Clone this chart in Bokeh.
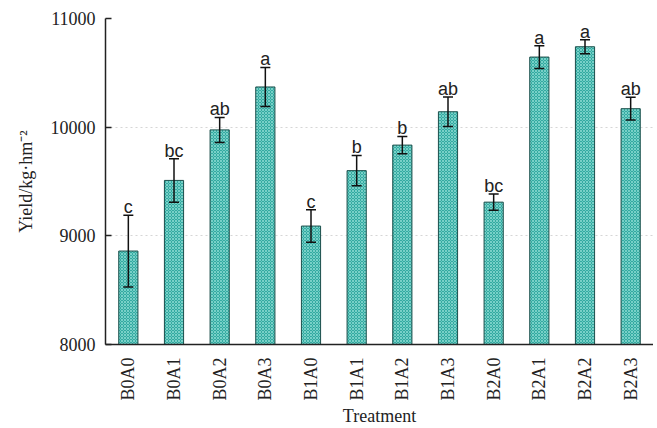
import math
from bokeh.plotting import figure
from bokeh.models import ColumnDataSource, FactorRange, Range1d, Whisker, FixedTicker
from bokeh.core.properties import value
from bokeh.embed import file_html
from bokeh.resources import INLINE

treatments = ["B0A0", "B0A1", "B0A2", "B0A3", "B1A0", "B1A1", "B1A2", "B1A3",
              "B2A0", "B2A1", "B2A2", "B2A3"]
yields = [8860, 9510, 9975, 10370, 9090, 9600, 9835, 10142, 9310, 10645, 10740, 10170]
errors = [330, 200, 115, 180, 150, 140, 80, 135, 75, 105, 65, 105]
letters = ["c", "bc", "ab", "a", "c", "b", "b", "ab", "bc", "a", "a", "ab"]
y_ticks = [8000, 9000, 10000, 11000]

upper = [v + e for v, e in zip(yields, errors)]
lower = [v - e for v, e in zip(yields, errors)]
src = ColumnDataSource(dict(x=treatments, y=yields, upper=upper, lower=lower, lab=letters))

p = figure(x_range=FactorRange(*treatments), y_range=Range1d(8000, 11000),
           width=653, height=428, output_backend="svg", toolbar_location=None,
           min_border_left=105, min_border_right=0, min_border_top=18, min_border_bottom=76)
p.outline_line_color = None
p.background_fill_color = "white"

p.vbar(x="x", top="y", bottom=8000, width=0.42, source=src,
       fill_color="#33aaa1", line_color="#1d4f4b", line_width=1,
       hatch_pattern="diagonal_cross", hatch_color="#8ad9d2", hatch_scale=3, hatch_weight=0.8)

w = Whisker(base="x", upper="upper", lower="lower", source=src,
            line_color="#111111", line_width=1.5, level="overlay")
w.upper_head.size = 10
w.lower_head.size = 10
w.upper_head.line_width = 1.5
w.lower_head.line_width = 1.5
w.upper_head.line_color = "#111111"
w.lower_head.line_color = "#111111"
p.add_layout(w)

p.text(x="x", y="upper", text="lab", source=src, text_align="center",
       text_baseline="alphabetic", y_offset=-8, text_font=value("Liberation Sans"),
       text_font_size="18px", text_color="#222222")

p.xgrid.grid_line_color = None
p.ygrid.grid_line_color = "#cccccc"
p.ygrid.grid_line_dash = "2 3"
p.ygrid.grid_line_alpha = 0.8

p.yaxis.ticker = FixedTicker(ticks=y_ticks)
p.yaxis.minor_tick_line_color = None
p.yaxis.major_tick_in = 6
p.yaxis.major_tick_out = 0
p.yaxis.major_label_standoff = 10
p.yaxis.axis_line_width = 1.5
p.yaxis.major_tick_line_width = 1.5
p.yaxis.axis_label = "Yield/kg·hm⁻²"
p.yaxis.axis_label_text_font_style = "normal"
p.yaxis.axis_label_standoff = 12

p.xaxis.major_label_orientation = math.pi / 2
p.xaxis.major_label_standoff = 7
p.xaxis.axis_line_width = 1.5
p.xaxis.axis_label = "Treatment"
p.xaxis.axis_label_text_font_style = "normal"
p.xaxis.axis_label_standoff = 2

for ax in (p.xaxis, p.yaxis):
    ax.major_label_text_font = "Liberation Serif"
    ax.major_label_text_font_size = "18px"
    ax.major_label_text_color = "#222222"
    ax.axis_label_text_font = "Liberation Serif"
    ax.axis_label_text_font_size = "18px"
    ax.axis_label_text_color = "#222222"
    ax.axis_line_color = "#222222"
p.yaxis.major_tick_line_color = "#222222"
p.xaxis.major_tick_line_color = None

open("out.html", "w").write(file_html(p, INLINE))
